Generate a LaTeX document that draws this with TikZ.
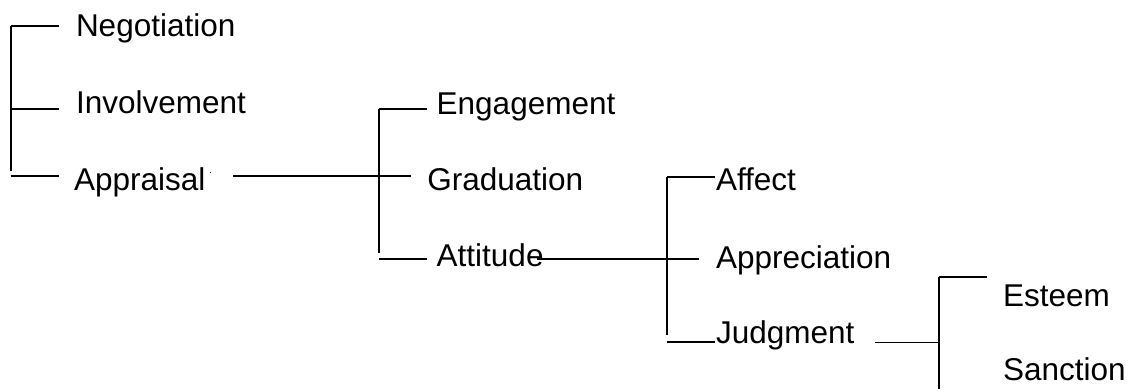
\documentclass[tikz,border=0pt]{standalone}
\usepackage{fontspec}
\setmainfont{Liberation Sans}
\begin{document}
\begin{tikzpicture}[x=1pt,y=-1pt,
  lbl/.style={anchor=base west,inner sep=0pt,outer sep=0pt,font=\fontsize{31.5}{36}\selectfont},
  tree/.style={line width=1.9pt,line cap=butt}]
\useasboundingbox (0,0) rectangle (1129,391);

% labels
\node[lbl] (neg) at (76,36.7)   {Negotiation};
\node[lbl] (inv) at (76,113)    {Involvement};
\node[lbl] (app) at (74,190.7)  {Appraisal\hspace{4pt}\raisebox{17.5pt}{\fontsize{9}{9}\selectfont .}};
\node[lbl] (eng) at (436.7,114) {Engagement};
\node[lbl] (gra) at (427.3,190.7) {Graduation};
\node[lbl] (att) at (436.7,266.7) {Attitude};
\node[lbl] (aff) at (716,190.7)   {Affect};
\node[lbl] (apr) at (716,268)     {Appreciation};
\node[lbl] (jud) at (716,343)     {Judgment};
\node[lbl] (est) at (1003,306)    {Esteem};
\node[lbl] (san) at (1003,380.7)  {Sanction};

% bracket joints
\coordinate (b1t) at (10.7,26);
\coordinate (b1b) at (10.7,171);
\coordinate (b1n) at (59,26);
\coordinate (b1m) at (10.7,108.7);
\coordinate (b1i) at (59,108.7);
\coordinate (b1l) at (10.7,175.7);
\coordinate (b1a) at (59,175.7);

\coordinate (appout) at (233,176);
\coordinate (b2g) at (411,176);
\coordinate (b2t) at (378.7,109);
\coordinate (b2b) at (378.7,253);
\coordinate (b2e) at (426.7,109);
\coordinate (b2l) at (378.7,259);
\coordinate (b2a) at (426.7,259);

\coordinate (attout) at (536.7,259);
\coordinate (b3p) at (699.3,259);
\coordinate (b3t) at (666.7,176.7);
\coordinate (b3b) at (666.7,335);
\coordinate (b3f) at (715,176.7);
\coordinate (b3l) at (666.7,342.3);
\coordinate (b3j) at (715,342.3);

\coordinate (judout) at (875,342.5);
\coordinate (b4m) at (938.7,342.5);
\coordinate (b4t) at (938.7,276.7);
\coordinate (b4b) at (938.7,389.3);
\coordinate (b4e) at (987.3,276.7);

% first level
\draw[tree] (b1t) -- (b1b);
\draw[tree] (b1t) -- (b1n);
\draw[tree] (b1m) -- (b1i);
\draw[tree] (b1l) -- (b1a);

% appraisal systems
\draw[tree] (appout) -- (b2g);
\draw[tree] (b2t) -- (b2b);
\draw[tree] (b2t) -- (b2e);
\draw[tree] (b2l) -- (b2a);

% attitude systems
\draw[tree] (attout) -- (b3p);
\draw[tree] (b3t) -- (b3b);
\draw[tree] (b3t) -- (b3f);
\draw[tree] (b3l) -- (b3j);

% judgment systems
\draw[tree] (judout) -- (b4m);
\draw[tree] (b4t) -- (b4b);
\draw[tree] (b4t) -- (b4e);
\end{tikzpicture}
\end{document}
